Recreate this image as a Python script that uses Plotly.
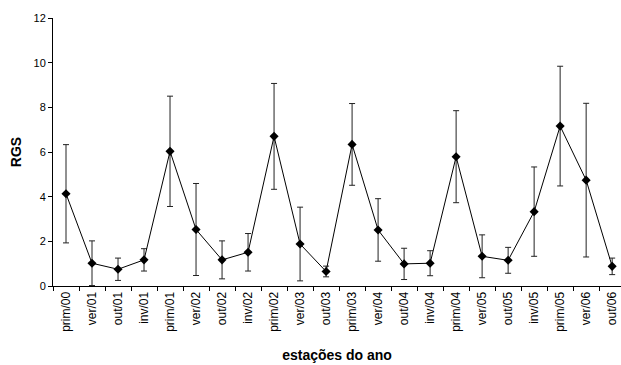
import plotly.graph_objects as go

# Seasons (estações do ano)
seasons = ["prim/00", "ver/01", "out/01", "inv/01", "prim/01", "ver/02", "out/02",
           "inv/02", "prim/02", "ver/03", "out/03", "prim/03", "ver/04", "out/04",
           "inv/04", "prim/04", "ver/05", "out/05", "inv/05", "prim/05", "ver/06",
           "out/06"]

# Mean RGS per season
rgs_mean = [4.13, 1.02, 0.75, 1.17, 6.03, 2.53, 1.17, 1.51, 6.70, 1.88, 0.65,
            6.34, 2.51, 0.99, 1.02, 5.79, 1.33, 1.15, 3.33, 7.16, 4.74, 0.88]

# Standard deviation (error bars)
rgs_sd = [2.20, 1.00, 0.50, 0.50, 2.47, 2.06, 0.85, 0.84, 2.37, 1.65, 0.24,
          1.83, 1.40, 0.70, 0.56, 2.06, 0.96, 0.58, 2.00, 2.68, 3.44, 0.37]

y_ticks = [0, 2, 4, 6, 8, 10, 12]

fig = go.Figure(
    go.Scatter(
        x=seasons,
        y=rgs_mean,
        mode="lines+markers",
        line=dict(color="black", width=1),
        marker=dict(symbol="diamond", size=7, color="black"),
        error_y=dict(type="data", array=rgs_sd, visible=True,
                     color="#222222", thickness=1, width=3),
        showlegend=False,
    )
)

font_family = "Liberation Sans, Arial, sans-serif"

fig.update_layout(
    width=621,
    height=365,
    margin=dict(l=53, r=0, t=18, b=79),
    paper_bgcolor="white",
    plot_bgcolor="white",
    font=dict(family=font_family, size=11, color="black"),
    xaxis=dict(
        type="category",
        categoryorder="array",
        categoryarray=seasons,
        range=[-0.5, 21.34],
        showline=True,
        linecolor="black",
        linewidth=1,
        ticks="outside",
        tickson="boundaries",
        ticklen=4,
        tickcolor="black",
        tickangle=-90,
        showgrid=False,
        zeroline=False,
        tickfont=dict(size=12, color="black"),
        title=dict(text="<b>estações do ano</b>", font=dict(size=14), standoff=19),
    ),
    yaxis=dict(
        range=[0, 12],
        tickvals=y_ticks,
        showline=True,
        linecolor="black",
        linewidth=1,
        ticks="outside",
        ticklen=4,
        tickcolor="black",
        showgrid=False,
        zeroline=False,
        tickfont=dict(size=11, color="black"),
        title=dict(text="<b>RGS</b>", font=dict(size=14), standoff=8),
    ),
)

fig.write_html("out.html")
